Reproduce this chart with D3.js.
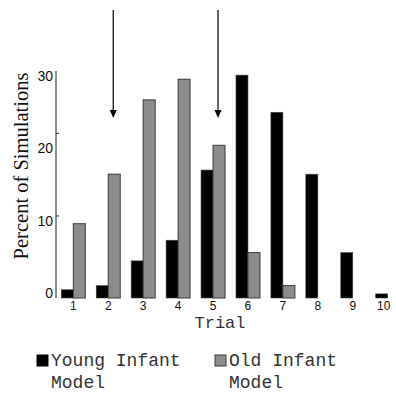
<!DOCTYPE html>
<html>
<head>
<meta charset="utf-8">
<script src="https://cdn.jsdelivr.net/npm/d3@7"></script>
<style>
  body { margin: 0; background: #fff; }
</style>
</head>
<body>
<div id="chart"></div>
<script>
// data (percent of simulations per trial)
const trials = [1, 2, 3, 4, 5, 6, 7, 8, 9, 10];
const youngInfant = [1.0, 1.5, 4.5, 7.0, 15.5, 27.0, 22.5, 15.0, 5.5, 0.5];
const oldInfant = [9.0, 15.0, 24.0, 26.5, 18.5, 5.5, 1.5, 0, 0, 0];
const yTicks = [0, 10, 20, 30];
const arrowTrials = [2, 5];
const seriesNames = ['Young Infant', 'Old Infant'];

const width = 396, height = 394;

const svg = d3.select('#chart')
    .append('svg')
    .attr('width', width)
    .attr('height', height);

const x = d3.scaleBand()
    .domain(trials)
    .range([61.3, 399.7])
    .paddingInner(0.313)
    .paddingOuter(0);

const bw = x.bandwidth() / 2;

const y = d3.scaleLinear()
    .domain([0, 27.5])
    .range([298, 71]);

// tick labels in the figure sit a bit off the tick marks
const yLabel = d3.scaleLinear()
    .domain([0, 30])
    .range([293, 76]);

// y axis
const yAxis = svg.append('g')
    .attr('transform', 'translate(56,0)')
    .call(d3.axisLeft(y).tickValues([10, 20]).tickSize(-3).tickFormat(''));
yAxis.select('.domain').attr('stroke', '#666').attr('stroke-width', 1.5).attr('d', `M0,${y(27.5)}V${y(0)}`);
yAxis.selectAll('.tick line').attr('stroke', '#333');

svg.append('g').selectAll('text')
    .data(yTicks)
    .enter()
    .append('text')
    .attr('x', 53)
    .attr('y', d => yLabel(d))
    .attr('dy', '0.35em')
    .attr('text-anchor', 'end')
    .attr('font-family', 'Liberation Sans, Arial, sans-serif')
    .attr('font-size', 14)
    .attr('fill', '#111')
    .text(d => d);

// x labels
svg.append('g').selectAll('text')
    .data(trials)
    .enter()
    .append('text')
    .attr('x', d => x(d) + x.bandwidth() / 2 - (d === 10 ? 4 : 0))
    .attr('y', 305.5)
    .attr('dy', '0.35em')
    .attr('text-anchor', 'middle')
    .attr('font-family', 'Liberation Sans, Arial, sans-serif')
    .attr('font-size', 12)
    .attr('fill', '#111')
    .text(d => d);

// bars
svg.append('g').selectAll('rect')
    .data(trials.map((t, i) => ({ t, v: youngInfant[i] })))
    .enter()
    .append('rect')
    .attr('x', d => x(d.t))
    .attr('y', d => y(d.v))
    .attr('width', bw)
    .attr('height', d => y(0) - y(d.v))
    .attr('fill', '#000')
    .attr('stroke', '#444')
    .attr('stroke-width', 0.6);

svg.append('g').selectAll('rect')
    .data(trials.map((t, i) => ({ t, v: oldInfant[i] })).filter(d => d.v > 0))
    .enter()
    .append('rect')
    .attr('x', d => x(d.t) + bw)
    .attr('y', d => y(d.v))
    .attr('width', bw)
    .attr('height', d => y(0) - y(d.v))
    .attr('fill', '#8c8c8c')
    .attr('stroke', '#3a3a3a')
    .attr('stroke-width', 1);

// arrows over the old-model bars
const arrows = svg.append('g').selectAll('g')
    .data(arrowTrials)
    .enter()
    .append('g')
    .attr('transform', d => `translate(${x(d) + bw * 1.5 - 1},0)`);
arrows.append('line')
    .attr('x1', 0).attr('x2', 0)
    .attr('y1', 10).attr('y2', 112)
    .attr('stroke', '#000')
    .attr('stroke-width', 1.2);
arrows.append('path')
    .attr('d', 'M-3.5,110L3.5,110L0,118Z')
    .attr('fill', '#000');

// axis titles
svg.append('text')
    .attr('transform', 'translate(28,166) rotate(-90)')
    .attr('text-anchor', 'middle')
    .attr('font-family', 'Liberation Serif, Times New Roman, serif')
    .attr('font-size', 20.5)
    .attr('fill', '#111')
    .text('Percent of Simulations');

svg.append('text')
    .attr('x', 220)
    .attr('y', 328)
    .attr('text-anchor', 'middle')
    .attr('font-family', 'Liberation Mono, Courier New, monospace')
    .attr('font-size', 17)
    .attr('fill', '#333')
    .text('Trial');

// legend
const legend = svg.append('g').selectAll('g')
    .data(seriesNames)
    .enter()
    .append('g')
    .attr('transform', (d, i) => `translate(${i === 0 ? 37 : 215},355)`);
legend.append('rect')
    .attr('width', 11)
    .attr('height', 11)
    .attr('fill', (d, i) => i === 0 ? '#000' : '#8c8c8c')
    .attr('stroke', (d, i) => i === 0 ? '#000' : '#3a3a3a');
legend.append('text')
    .attr('x', 14)
    .attr('y', 11)
    .attr('font-family', 'Liberation Mono, Courier New, monospace')
    .attr('font-size', 18)
    .attr('fill', '#333')
    .text(d => d);
legend.append('text')
    .attr('x', 14)
    .attr('y', 33)
    .attr('font-family', 'Liberation Mono, Courier New, monospace')
    .attr('font-size', 18)
    .attr('fill', '#333')
    .text('Model');
</script>
</body>
</html>
